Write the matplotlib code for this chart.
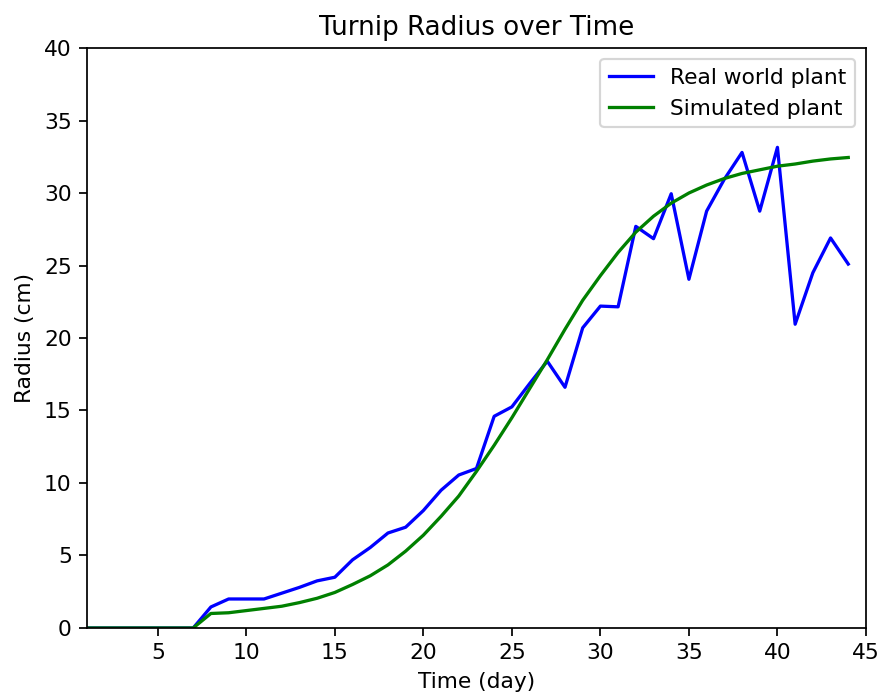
import matplotlib
matplotlib.use('Agg')
import matplotlib.pyplot as plt

# Day numbers and turnip radius (cm)
days = list(range(1, 45))

real_radius = [0, 0, 0, 0, 0, 0, 0, 1.45, 2.0, 2.0,
               2.0, 2.4, 2.8, 3.25, 3.5, 4.7, 5.55, 6.55, 6.95, 8.1,
               9.5, 10.55, 11.0, 14.6, 15.25, 16.85, 18.4, 16.6, 20.7, 22.2,
               22.15, 27.7, 26.85, 29.95, 24.05, 28.75, 30.95, 32.8, 28.75, 33.15,
               20.95, 24.5, 26.9, 25.1]

sim_radius = [0, 0, 0, 0, 0, 0, 0, 1.0, 1.05, 1.2,
              1.35, 1.5, 1.75, 2.05, 2.45, 3.0, 3.6, 4.35, 5.3, 6.4,
              7.7, 9.1, 10.8, 12.6, 14.5, 16.5, 18.5, 20.6, 22.6, 24.3,
              25.9, 27.3, 28.4, 29.3, 30.0, 30.55, 31.0, 31.35, 31.6, 31.85,
              32.0, 32.2, 32.35, 32.45]

DPI = 157
fig = plt.figure(figsize=(883 / DPI, 699 / DPI), dpi=DPI)
ax = fig.add_axes([0.0985, 0.1016, 0.8822, 0.8297])

ax.plot(days, real_radius, color='blue', label='Real world plant')
ax.plot(days, sim_radius, color='green', label='Simulated plant')

ax.set_xlim(1, 45)
ax.set_ylim(0, 40)
ax.set_xticks([5, 10, 15, 20, 25, 30, 35, 40, 45])
ax.set_xlabel('Time (day)')
ax.set_ylabel('Radius (cm)')
ax.set_title('Turnip Radius over Time')
ax.legend(loc='upper right')

fig.savefig('out.png', dpi=DPI)
